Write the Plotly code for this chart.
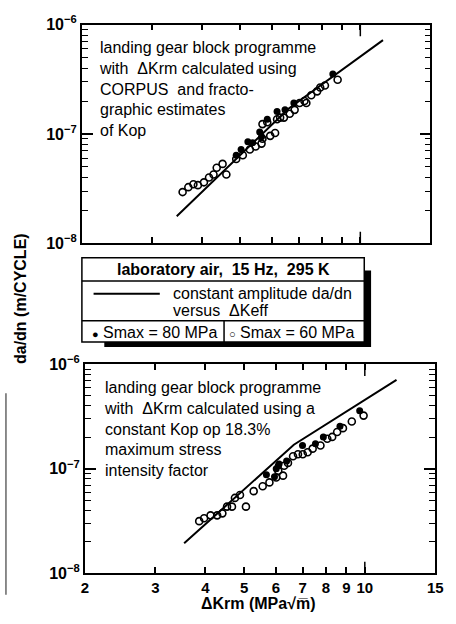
import math
import plotly.graph_objects as go

W, H = 456, 624

# ---------------- data ----------------
# Top panel: CORPUS / fractographic Kop
TOP_OPEN_DK = [3.58, 3.70, 3.81, 3.91, 4.05, 4.17, 4.28, 4.36, 4.51, 4.61, 4.88, 5.07,
               5.28, 5.46, 5.65, 5.68, 5.94, 6.11, 5.68, 5.84, 6.18, 6.43, 6.65, 6.84,
               7.04, 7.32, 7.53, 7.79, 8.15, 8.77, 6.29, 7.24, 7.93]
TOP_OPEN_DADN = [2.94e-8, 3.26e-8, 3.47e-8, 3.40e-8, 3.61e-8, 4.00e-8, 4.25e-8, 4.90e-8,
                 5.32e-8, 4.25e-8, 5.89e-8, 6.38e-8, 7.21e-8, 7.67e-8, 8.16e-8, 9.03e-8,
                 9.60e-8, 1.02e-7, 1.23e-7, 1.28e-7, 1.36e-7, 1.41e-7, 1.53e-7, 1.66e-7,
                 1.92e-7, 1.92e-7, 2.26e-7, 2.45e-7, 2.77e-7, 3.13e-7, 1.41e-7, 2.00e-7,
                 2.66e-7]
TOP_FILLED_DK = [4.88, 5.02, 5.22, 5.37, 5.59, 5.65, 5.84, 6.18, 6.47, 6.81, 8.53]
TOP_FILLED_DADN = [6.38e-8, 7.21e-8, 8.49e-8, 8.32e-8, 1.04e-7, 9.40e-8, 1.36e-7,
                   1.60e-7, 1.66e-7, 1.92e-7, 3.54e-7]

# Bottom panel: constant Kop = 18.3 % Kmax
BOT_OPEN_DK = [3.86, 3.97, 4.12, 4.28, 4.41, 4.53, 4.66, 4.74, 4.88, 5.05, 5.28, 5.56,
               5.78, 6.01, 6.25, 6.08, 6.29, 6.43, 6.62, 6.81, 7.00, 7.20, 7.41, 7.75,
               8.06, 8.29, 8.53, 8.82, 9.28, 9.93]
BOT_OPEN_DADN = [3.16e-8, 3.37e-8, 3.59e-8, 3.59e-8, 3.75e-8, 4.35e-8, 4.35e-8, 5.27e-8,
                 5.62e-8, 4.35e-8, 6.12e-8, 6.81e-8, 7.42e-8, 8.25e-8, 8.61e-8, 9.58e-8,
                 1.07e-7, 1.14e-7, 1.32e-7, 1.38e-7, 1.38e-7, 1.44e-7, 1.56e-7, 1.67e-7,
                 1.94e-7, 2.02e-7, 2.25e-7, 2.45e-7, 2.84e-7, 3.23e-7]
BOT_FILLED_DK = [5.68, 5.95, 6.01, 6.08, 6.11, 6.38, 6.99, 7.53, 7.88, 8.67, 9.71]
BOT_FILLED_DADN = [8.8e-8, 8.4e-8, 1.0e-7, 1.07e-7, 1.11e-7, 1.19e-7, 1.67e-7, 1.74e-7,
                   2.02e-7, 2.55e-7, 3.59e-7]

# Constant amplitude da/dn versus dKeff
CA_TOP_DK = [3.46, 6.6, 11.4]
CA_TOP_DADN = [1.77e-8, 1.7e-7, 7.2e-7]
CA_BOT_DK = [3.54, 6.65, 12.0]
CA_BOT_DADN = [1.94e-8, 1.7e-7, 7.1e-7]

X_TICKS = [2, 3, 4, 5, 6, 7, 8, 9, 10, 15]
X_TICK_TEXT = ["2", "3", "4", "5", "6", "7", "8", "9", "10", "15"]
Y_TICKS = [1e-8, 1e-7, 1e-6]
Y_TICK_TEXT = ["10<sup>−8</sup>", "10<sup>−7</sup>", "10<sup>−6</sup>"]
Y_MINOR = [k * 10.0 ** e for e in (-8, -7) for k in range(2, 10)]

FONT = "Liberation Sans, Arial, sans-serif"


def px(x):
    return x / W


def py(y):
    return 1 - y / H


fig = go.Figure()

panels = [
    ("x", "y", TOP_OPEN_DK, TOP_OPEN_DADN, TOP_FILLED_DK, TOP_FILLED_DADN, CA_TOP_DK, CA_TOP_DADN),
    ("x2", "y2", BOT_OPEN_DK, BOT_OPEN_DADN, BOT_FILLED_DK, BOT_FILLED_DADN, CA_BOT_DK, CA_BOT_DADN),
]
for xa, ya, odk, oda, fdk, fda, cdk, cda in panels:
    fig.add_trace(go.Scatter(x=cdk, y=cda, mode="lines", xaxis=xa, yaxis=ya,
                             line=dict(color="black", width=2), hoverinfo="skip"))
    fig.add_trace(go.Scatter(x=odk, y=oda, mode="markers", xaxis=xa, yaxis=ya,
                             marker=dict(symbol="circle-open", size=7, color="black",
                                         line=dict(width=1.6, color="black"))))
    fig.add_trace(go.Scatter(x=fdk, y=fda, mode="markers", xaxis=xa, yaxis=ya,
                             marker=dict(symbol="circle", size=7, color="black")))

xr = [math.log10(2), math.log10(15)]


def xaxis(domain, labels, anchor):
    return dict(type="log", range=xr, domain=domain, anchor=anchor,
                showline=True, linecolor="black", linewidth=1.8, mirror="ticks",
                ticks="inside", ticklen=6, tickwidth=1.5, tickcolor="black",
                tickmode="array", tickvals=X_TICKS, ticktext=X_TICK_TEXT,
                showticklabels=labels, showgrid=False, zeroline=False,
                tickfont=dict(family=FONT, size=15, color="black", weight="bold"))


def yaxis(domain, anchor):
    return dict(type="log", range=[-8, -6], domain=domain, anchor=anchor,
                showline=True, linecolor="black", linewidth=1.8, mirror="ticks",
                ticks="inside", ticklen=11, tickwidth=1.5, tickcolor="black",
                tickmode="array", tickvals=Y_TICKS, ticktext=Y_TICK_TEXT,
                showgrid=False, zeroline=False,
                minor=dict(tickmode="array", tickvals=Y_MINOR, ticks="inside",
                           ticklen=6, tickwidth=1.3, tickcolor="black", showgrid=False),
                tickfont=dict(family=FONT, size=16, color="black", weight="bold"))


fig.update_layout(
    width=W, height=H, margin=dict(l=0, r=0, t=0, b=0),
    paper_bgcolor="white", plot_bgcolor="white", showlegend=False,
    xaxis=xaxis([px(80), px(438)], False, "y"),
    yaxis=yaxis([py(240), py(14)], "x"),
    xaxis2=xaxis([px(83), px(443)], True, "y2"),
    yaxis2=yaxis([py(581), py(365)], "x2"),
)

shapes = []
# longer ticks at 10
for xref, yref, hpx in (("x", "y domain", 226), ("x2", "y2 domain", 216)):
    L = 12 / hpx
    shapes.append(dict(type="line", xref=xref, yref=yref, x0=10, x1=10, y0=0, y1=L,
                       line=dict(color="black", width=1.5)))
    shapes.append(dict(type="line", xref=xref, yref=yref, x0=10, x1=10, y0=1 - L, y1=1,
                       line=dict(color="black", width=1.5)))

# legend box with shadow
shapes.append(dict(type="rect", xref="paper", yref="paper", x0=px(103), x1=px(377),
                   y0=py(347), y1=py(268), fillcolor="black", line=dict(width=0)))
shapes.append(dict(type="rect", xref="paper", yref="paper", x0=px(80), x1=px(370),
                   y0=py(342), y1=py(255), fillcolor="white",
                   line=dict(color="black", width=1.5)))
for yy in (279, 320):
    shapes.append(dict(type="line", xref="paper", yref="paper", x0=px(80), x1=px(370),
                       y0=py(yy), y1=py(yy), line=dict(color="black", width=1.5)))
shapes.append(dict(type="line", xref="paper", yref="paper", x0=px(226), x1=px(226),
                   y0=py(320), y1=py(342), line=dict(color="black", width=1.5)))
shapes.append(dict(type="line", xref="paper", yref="paper", x0=px(92), x1=px(160),
                   y0=py(292), y1=py(292), line=dict(color="black", width=2)))
# scan edge artifact
shapes.append(dict(type="line", xref="paper", yref="paper", x0=px(2), x1=px(2),
                   y0=py(603), y1=py(395), line=dict(color="#666666", width=1.5)))
fig.update_layout(shapes=shapes)

ann = []


def text(x, y, s, size=16, bold=False, xanchor="left", yanchor="middle", angle=0):
    ann.append(dict(xref="paper", yref="paper", x=px(x), y=py(y), text=s,
                    showarrow=False, xanchor=xanchor, yanchor=yanchor, align="left",
                    textangle=angle,
                    font=dict(family=FONT, size=size, color="black",
                              weight="bold" if bold else "normal")))


text(96, 27, "landing gear block programme<br>with  ΔKrm calculated using<br>"
     "CORPUS  and fracto-<br>graphic estimates<br>of Kop", yanchor="top")
text(101, 378, "landing gear block programme<br>with  ΔKrm calculated using a<br>"
     "constant Kop op 18.3%<br>maximum stress<br>intensity factor", yanchor="top")
text(225, 267, "laboratory air,\u00a0 15 Hz,\u00a0 295 K", bold=True, xanchor="center")
text(172, 292, "constant amplitude da/dn")
text(172, 309, "versus\u00a0 ΔKeff")
text(88, 332, "<span style='font-size:11px'>●</span> Smax = 80 MPa")
text(229, 332, "<span style='font-size:11px'>○</span> Smax = 60 MPa")
text(17, 297, "da/dn (m/CYCLE)", bold=True, xanchor="center", angle=-90)
text(261, 612, "ΔKrm (MPa√m\u0305)", bold=True, xanchor="center")
fig.update_layout(annotations=ann)

fig.write_html("out.html")
